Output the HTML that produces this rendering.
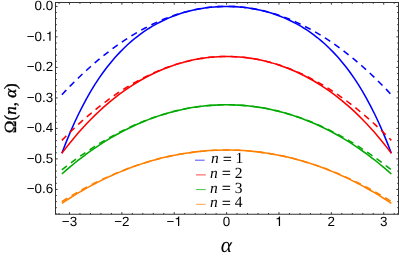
<!DOCTYPE html>
<html><head><meta charset="utf-8"><style>
html,body{margin:0;padding:0;background:#fff;}
svg{display:block;text-rendering:geometricPrecision;will-change:transform;}
.tk{font-family:"Liberation Sans",sans-serif;font-size:13.4px;fill:#000;}
.lg{font-family:"Liberation Serif",serif;font-size:15.5px;fill:#000;}
.ax{font-family:"Liberation Serif",serif;font-style:italic;fill:#000;}
.yl{font-family:"Liberation Serif",serif;font-size:17px;fill:#000;stroke:#000;stroke-width:0.35px;}
</style></head><body>
<svg width="399" height="261" viewBox="0 0 399 261">
<path d="M61.85 153.28 L65.97 142.61 L70.09 132.62 L74.21 123.25 L78.33 114.49 L82.45 106.28 L86.57 98.60 L90.69 91.42 L94.80 84.70 L98.92 78.41 L103.04 72.53 L107.16 67.03 L111.28 61.90 L115.40 57.10 L119.52 52.62 L123.63 48.44 L127.75 44.54 L131.87 40.90 L135.99 37.52 L140.11 34.36 L144.23 31.43 L148.35 28.72 L152.46 26.19 L156.58 23.86 L160.70 21.71 L164.82 19.72 L168.94 17.90 L173.06 16.23 L177.18 14.71 L181.30 13.33 L185.41 12.09 L189.53 10.98 L193.65 10.00 L197.77 9.15 L201.89 8.41 L206.01 7.79 L210.13 7.29 L214.24 6.90 L218.36 6.62 L222.48 6.46 L226.60 6.40 L230.72 6.46 L234.84 6.62 L238.96 6.90 L243.07 7.29 L247.19 7.79 L251.31 8.41 L255.43 9.15 L259.55 10.00 L263.67 10.98 L267.79 12.09 L271.90 13.33 L276.02 14.71 L280.14 16.23 L284.26 17.90 L288.38 19.72 L292.50 21.71 L296.62 23.86 L300.74 26.19 L304.85 28.72 L308.97 31.43 L313.09 34.36 L317.21 37.52 L321.33 40.90 L325.45 44.54 L329.57 48.44 L333.68 52.62 L337.80 57.10 L341.92 61.90 L346.04 67.03 L350.16 72.53 L354.28 78.41 L358.40 84.70 L362.51 91.42 L366.63 98.60 L370.75 106.28 L374.87 114.49 L378.99 123.25 L383.11 132.62 L387.23 142.61 L391.35 153.28" fill="none" stroke="#0000ff" stroke-width="1.55" stroke-linejoin="round"/>
<path d="M61.85 94.71 L65.97 90.35 L70.09 86.10 L74.21 81.96 L78.33 77.93 L82.45 74.01 L86.57 70.20 L90.69 66.51 L94.80 62.92 L98.92 59.44 L103.04 56.07 L107.16 52.82 L111.28 49.67 L115.40 46.64 L119.52 43.71 L123.63 40.90 L127.75 38.19 L131.87 35.60 L135.99 33.11 L140.11 30.74 L144.23 28.48 L148.35 26.33 L152.46 24.28 L156.58 22.35 L160.70 20.53 L164.82 18.82 L168.94 17.22 L173.06 15.73 L177.18 14.35 L181.30 13.08 L185.41 11.92 L189.53 10.87 L193.65 9.93 L197.77 9.10 L201.89 8.39 L206.01 7.78 L210.13 7.28 L214.24 6.90 L218.36 6.62 L222.48 6.46 L226.60 6.40 L230.72 6.46 L234.84 6.62 L238.96 6.90 L243.07 7.28 L247.19 7.78 L251.31 8.39 L255.43 9.10 L259.55 9.93 L263.67 10.87 L267.79 11.92 L271.90 13.08 L276.02 14.35 L280.14 15.73 L284.26 17.22 L288.38 18.82 L292.50 20.53 L296.62 22.35 L300.74 24.28 L304.85 26.33 L308.97 28.48 L313.09 30.74 L317.21 33.11 L321.33 35.60 L325.45 38.19 L329.57 40.90 L333.68 43.71 L337.80 46.64 L341.92 49.67 L346.04 52.82 L350.16 56.07 L354.28 59.44 L358.40 62.92 L362.51 66.51 L366.63 70.20 L370.75 74.01 L374.87 77.93 L378.99 81.96 L383.11 86.10 L387.23 90.35 L391.35 94.71" fill="none" stroke="#0000ff" stroke-width="1.55" stroke-dasharray="6.4 5.02"/>
<path d="M61.85 153.28 L65.97 147.87 L70.09 142.67 L74.21 137.66 L78.33 132.84 L82.45 128.20 L86.57 123.75 L90.69 119.48 L94.80 115.38 L98.92 111.44 L103.04 107.67 L107.16 104.07 L111.28 100.61 L115.40 97.31 L119.52 94.16 L123.63 91.16 L127.75 88.30 L131.87 85.58 L135.99 82.99 L140.11 80.54 L144.23 78.22 L148.35 76.03 L152.46 73.97 L156.58 72.03 L160.70 70.21 L164.82 68.51 L168.94 66.93 L173.06 65.47 L177.18 64.12 L181.30 62.88 L185.41 61.76 L189.53 60.75 L193.65 59.84 L197.77 59.05 L201.89 58.36 L206.01 57.78 L210.13 57.31 L214.24 56.94 L218.36 56.68 L222.48 56.52 L226.60 56.47 L230.72 56.52 L234.84 56.68 L238.96 56.94 L243.07 57.31 L247.19 57.78 L251.31 58.36 L255.43 59.05 L259.55 59.84 L263.67 60.75 L267.79 61.76 L271.90 62.88 L276.02 64.12 L280.14 65.47 L284.26 66.93 L288.38 68.51 L292.50 70.21 L296.62 72.03 L300.74 73.97 L304.85 76.03 L308.97 78.22 L313.09 80.54 L317.21 82.99 L321.33 85.58 L325.45 88.30 L329.57 91.16 L333.68 94.16 L337.80 97.31 L341.92 100.61 L346.04 104.07 L350.16 107.67 L354.28 111.44 L358.40 115.38 L362.51 119.48 L366.63 123.75 L370.75 128.20 L374.87 132.84 L378.99 137.66 L383.11 142.67 L387.23 147.87 L391.35 153.28" fill="none" stroke="#ff0000" stroke-width="1.55" stroke-linejoin="round"/>
<path d="M61.85 140.33 L65.97 136.19 L70.09 132.16 L74.21 128.22 L78.33 124.40 L82.45 120.68 L86.57 117.06 L90.69 113.55 L94.80 110.14 L98.92 106.84 L103.04 103.64 L107.16 100.55 L111.28 97.56 L115.40 94.68 L119.52 91.90 L123.63 89.23 L127.75 86.66 L131.87 84.20 L135.99 81.84 L140.11 79.58 L144.23 77.44 L148.35 75.39 L152.46 73.45 L156.58 71.62 L160.70 69.89 L164.82 68.26 L168.94 66.74 L173.06 65.33 L177.18 64.02 L181.30 62.81 L185.41 61.71 L189.53 60.72 L193.65 59.82 L197.77 59.04 L201.89 58.36 L206.01 57.78 L210.13 57.31 L214.24 56.94 L218.36 56.68 L222.48 56.52 L226.60 56.47 L230.72 56.52 L234.84 56.68 L238.96 56.94 L243.07 57.31 L247.19 57.78 L251.31 58.36 L255.43 59.04 L259.55 59.82 L263.67 60.72 L267.79 61.71 L271.90 62.81 L276.02 64.02 L280.14 65.33 L284.26 66.74 L288.38 68.26 L292.50 69.89 L296.62 71.62 L300.74 73.45 L304.85 75.39 L308.97 77.44 L313.09 79.58 L317.21 81.84 L321.33 84.20 L325.45 86.66 L329.57 89.23 L333.68 91.90 L337.80 94.68 L341.92 97.56 L346.04 100.55 L350.16 103.64 L354.28 106.84 L358.40 110.14 L362.51 113.55 L366.63 117.06 L370.75 120.68 L374.87 124.40 L378.99 128.22 L383.11 132.16 L387.23 136.19 L391.35 140.33" fill="none" stroke="#ff0000" stroke-width="1.55" stroke-dasharray="6.4 5.02"/>
<path d="M61.85 174.02 L65.97 170.41 L70.09 166.90 L74.21 163.50 L78.33 160.21 L82.45 157.03 L86.57 153.96 L90.69 150.99 L94.80 148.12 L98.92 145.35 L103.04 142.68 L107.16 140.12 L111.28 137.65 L115.40 135.27 L119.52 133.00 L123.63 130.81 L127.75 128.72 L131.87 126.73 L135.99 124.82 L140.11 123.01 L144.23 121.28 L148.35 119.65 L152.46 118.10 L156.58 116.64 L160.70 115.27 L164.82 113.98 L168.94 112.78 L173.06 111.67 L177.18 110.64 L181.30 109.69 L185.41 108.83 L189.53 108.05 L193.65 107.36 L197.77 106.74 L201.89 106.21 L206.01 105.76 L210.13 105.40 L214.24 105.11 L218.36 104.91 L222.48 104.78 L226.60 104.74 L230.72 104.78 L234.84 104.91 L238.96 105.11 L243.07 105.40 L247.19 105.76 L251.31 106.21 L255.43 106.74 L259.55 107.36 L263.67 108.05 L267.79 108.83 L271.90 109.69 L276.02 110.64 L280.14 111.67 L284.26 112.78 L288.38 113.98 L292.50 115.27 L296.62 116.64 L300.74 118.10 L304.85 119.65 L308.97 121.28 L313.09 123.01 L317.21 124.82 L321.33 126.73 L325.45 128.72 L329.57 130.81 L333.68 133.00 L337.80 135.27 L341.92 137.65 L346.04 140.12 L350.16 142.68 L354.28 145.35 L358.40 148.12 L362.51 150.99 L366.63 153.96 L370.75 157.03 L374.87 160.21 L378.99 163.50 L383.11 166.90 L387.23 170.41 L391.35 174.02" fill="none" stroke="#00aa00" stroke-width="1.55" stroke-linejoin="round"/>
<path d="M61.85 169.88 L65.97 166.66 L70.09 163.53 L74.21 160.47 L78.33 157.50 L82.45 154.61 L86.57 151.80 L90.69 149.08 L94.80 146.43 L98.92 143.86 L103.04 141.38 L107.16 138.98 L111.28 136.66 L115.40 134.42 L119.52 132.26 L123.63 130.19 L127.75 128.19 L131.87 126.28 L135.99 124.45 L140.11 122.70 L144.23 121.03 L148.35 119.44 L152.46 117.93 L156.58 116.51 L160.70 115.16 L164.82 113.90 L168.94 112.72 L173.06 111.62 L177.18 110.61 L181.30 109.67 L185.41 108.81 L189.53 108.04 L193.65 107.35 L197.77 106.74 L201.89 106.21 L206.01 105.76 L210.13 105.39 L214.24 105.11 L218.36 104.91 L222.48 104.78 L226.60 104.74 L230.72 104.78 L234.84 104.91 L238.96 105.11 L243.07 105.39 L247.19 105.76 L251.31 106.21 L255.43 106.74 L259.55 107.35 L263.67 108.04 L267.79 108.81 L271.90 109.67 L276.02 110.61 L280.14 111.62 L284.26 112.72 L288.38 113.90 L292.50 115.16 L296.62 116.51 L300.74 117.93 L304.85 119.44 L308.97 121.03 L313.09 122.70 L317.21 124.45 L321.33 126.28 L325.45 128.19 L329.57 130.19 L333.68 132.26 L337.80 134.42 L341.92 136.66 L346.04 138.98 L350.16 141.38 L354.28 143.86 L358.40 146.43 L362.51 149.08 L366.63 151.80 L370.75 154.61 L374.87 157.50 L378.99 160.47 L383.11 163.53 L387.23 166.66 L391.35 169.88" fill="none" stroke="#00aa00" stroke-width="1.55" stroke-dasharray="6.4 5.02"/>
<path d="M61.85 203.35 L65.97 200.63 L70.09 198.00 L74.21 195.43 L78.33 192.95 L82.45 190.53 L86.57 188.20 L90.69 185.93 L94.80 183.75 L98.92 181.63 L103.04 179.59 L107.16 177.62 L111.28 175.72 L115.40 173.89 L119.52 172.13 L123.63 170.44 L127.75 168.82 L131.87 167.27 L135.99 165.79 L140.11 164.38 L144.23 163.03 L148.35 161.76 L152.46 160.55 L156.58 159.41 L160.70 158.33 L164.82 157.32 L168.94 156.38 L173.06 155.51 L177.18 154.70 L181.30 153.95 L185.41 153.27 L189.53 152.66 L193.65 152.11 L197.77 151.62 L201.89 151.21 L206.01 150.85 L210.13 150.56 L214.24 150.34 L218.36 150.17 L222.48 150.08 L226.60 150.05 L230.72 150.08 L234.84 150.17 L238.96 150.34 L243.07 150.56 L247.19 150.85 L251.31 151.21 L255.43 151.62 L259.55 152.11 L263.67 152.66 L267.79 153.27 L271.90 153.95 L276.02 154.70 L280.14 155.51 L284.26 156.38 L288.38 157.32 L292.50 158.33 L296.62 159.41 L300.74 160.55 L304.85 161.76 L308.97 163.03 L313.09 164.38 L317.21 165.79 L321.33 167.27 L325.45 168.82 L329.57 170.44 L333.68 172.13 L337.80 173.89 L341.92 175.72 L346.04 177.62 L350.16 179.59 L354.28 181.63 L358.40 183.75 L362.51 185.93 L366.63 188.20 L370.75 190.53 L374.87 192.95 L378.99 195.43 L383.11 198.00 L387.23 200.63 L391.35 203.35" fill="none" stroke="#ff8000" stroke-width="1.55" stroke-linejoin="round"/>
<path d="M61.85 201.56 L65.97 199.01 L70.09 196.53 L74.21 194.12 L78.33 191.77 L82.45 189.48 L86.57 187.26 L90.69 185.11 L94.80 183.01 L98.92 180.98 L103.04 179.02 L107.16 177.12 L111.28 175.29 L115.40 173.52 L119.52 171.81 L123.63 170.17 L127.75 168.59 L131.87 167.08 L135.99 165.63 L140.11 164.24 L144.23 162.92 L148.35 161.67 L152.46 160.48 L156.58 159.35 L160.70 158.29 L164.82 157.29 L168.94 156.36 L173.06 155.49 L177.18 154.68 L181.30 153.94 L185.41 153.26 L189.53 152.65 L193.65 152.11 L197.77 151.62 L201.89 151.20 L206.01 150.85 L210.13 150.56 L214.24 150.33 L218.36 150.17 L222.48 150.08 L226.60 150.05 L230.72 150.08 L234.84 150.17 L238.96 150.33 L243.07 150.56 L247.19 150.85 L251.31 151.20 L255.43 151.62 L259.55 152.11 L263.67 152.65 L267.79 153.26 L271.90 153.94 L276.02 154.68 L280.14 155.49 L284.26 156.36 L288.38 157.29 L292.50 158.29 L296.62 159.35 L300.74 160.48 L304.85 161.67 L308.97 162.92 L313.09 164.24 L317.21 165.63 L321.33 167.08 L325.45 168.59 L329.57 170.17 L333.68 171.81 L337.80 173.52 L341.92 175.29 L346.04 177.12 L350.16 179.02 L354.28 180.98 L358.40 183.01 L362.51 185.11 L366.63 187.26 L370.75 189.48 L374.87 191.77 L378.99 194.12 L383.11 196.53 L387.23 199.01 L391.35 201.56" fill="none" stroke="#ff8000" stroke-width="1.55" stroke-dasharray="6.4 5.02"/>
<rect x="55.5" y="2.5" width="343.0" height="211.75" fill="none" stroke="#333333" stroke-width="1"/>
<path d="M59.02 214.25 v-1.3 M59.02 2.5 v1.3 M69.49 214.25 v-2.1 M69.49 2.5 v2.1 M79.96 214.25 v-1.3 M79.96 2.5 v1.3 M90.44 214.25 v-1.3 M90.44 2.5 v1.3 M100.91 214.25 v-1.3 M100.91 2.5 v1.3 M111.39 214.25 v-1.3 M111.39 2.5 v1.3 M121.86 214.25 v-2.1 M121.86 2.5 v2.1 M132.33 214.25 v-1.3 M132.33 2.5 v1.3 M142.81 214.25 v-1.3 M142.81 2.5 v1.3 M153.28 214.25 v-1.3 M153.28 2.5 v1.3 M163.76 214.25 v-1.3 M163.76 2.5 v1.3 M174.23 214.25 v-2.1 M174.23 2.5 v2.1 M184.70 214.25 v-1.3 M184.70 2.5 v1.3 M195.18 214.25 v-1.3 M195.18 2.5 v1.3 M205.65 214.25 v-1.3 M205.65 2.5 v1.3 M216.13 214.25 v-1.3 M216.13 2.5 v1.3 M226.60 214.25 v-2.1 M226.60 2.5 v2.1 M237.07 214.25 v-1.3 M237.07 2.5 v1.3 M247.55 214.25 v-1.3 M247.55 2.5 v1.3 M258.02 214.25 v-1.3 M258.02 2.5 v1.3 M268.50 214.25 v-1.3 M268.50 2.5 v1.3 M278.97 214.25 v-2.1 M278.97 2.5 v2.1 M289.44 214.25 v-1.3 M289.44 2.5 v1.3 M299.92 214.25 v-1.3 M299.92 2.5 v1.3 M310.39 214.25 v-1.3 M310.39 2.5 v1.3 M320.87 214.25 v-1.3 M320.87 2.5 v1.3 M331.34 214.25 v-2.1 M331.34 2.5 v2.1 M341.81 214.25 v-1.3 M341.81 2.5 v1.3 M352.29 214.25 v-1.3 M352.29 2.5 v1.3 M362.76 214.25 v-1.3 M362.76 2.5 v1.3 M373.24 214.25 v-1.3 M373.24 2.5 v1.3 M383.71 214.25 v-2.1 M383.71 2.5 v2.1 M394.18 214.25 v-1.3 M394.18 2.5 v1.3 M55.5 213.80 h1.3 M398.5 213.80 h-1.3 M55.5 207.70 h1.3 M398.5 207.70 h-1.3 M55.5 201.60 h1.3 M398.5 201.60 h-1.3 M55.5 195.50 h1.3 M398.5 195.50 h-1.3 M55.5 189.40 h2.1 M398.5 189.40 h-2.1 M55.5 183.30 h1.3 M398.5 183.30 h-1.3 M55.5 177.20 h1.3 M398.5 177.20 h-1.3 M55.5 171.10 h1.3 M398.5 171.10 h-1.3 M55.5 165.00 h1.3 M398.5 165.00 h-1.3 M55.5 158.90 h2.1 M398.5 158.90 h-2.1 M55.5 152.80 h1.3 M398.5 152.80 h-1.3 M55.5 146.70 h1.3 M398.5 146.70 h-1.3 M55.5 140.60 h1.3 M398.5 140.60 h-1.3 M55.5 134.50 h1.3 M398.5 134.50 h-1.3 M55.5 128.40 h2.1 M398.5 128.40 h-2.1 M55.5 122.30 h1.3 M398.5 122.30 h-1.3 M55.5 116.20 h1.3 M398.5 116.20 h-1.3 M55.5 110.10 h1.3 M398.5 110.10 h-1.3 M55.5 104.00 h1.3 M398.5 104.00 h-1.3 M55.5 97.90 h2.1 M398.5 97.90 h-2.1 M55.5 91.80 h1.3 M398.5 91.80 h-1.3 M55.5 85.70 h1.3 M398.5 85.70 h-1.3 M55.5 79.60 h1.3 M398.5 79.60 h-1.3 M55.5 73.50 h1.3 M398.5 73.50 h-1.3 M55.5 67.40 h2.1 M398.5 67.40 h-2.1 M55.5 61.30 h1.3 M398.5 61.30 h-1.3 M55.5 55.20 h1.3 M398.5 55.20 h-1.3 M55.5 49.10 h1.3 M398.5 49.10 h-1.3 M55.5 43.00 h1.3 M398.5 43.00 h-1.3 M55.5 36.90 h2.1 M398.5 36.90 h-2.1 M55.5 30.80 h1.3 M398.5 30.80 h-1.3 M55.5 24.70 h1.3 M398.5 24.70 h-1.3 M55.5 18.60 h1.3 M398.5 18.60 h-1.3 M55.5 12.50 h1.3 M398.5 12.50 h-1.3 M55.5 6.40 h2.1 M398.5 6.40 h-2.1" fill="none" stroke="#333333" stroke-width="1"/>
<text x="61.85" y="225.90" class="tk">−3</text>
<text x="114.22" y="225.90" class="tk">−2</text>
<text x="166.59" y="225.90" class="tk">−</text><path d="M179.23 225.90 L178.01 225.90 L178.01 219.20 L175.77 219.20 L175.77 218.33 C176.96 218.33 178.04 217.73 178.44 216.48 L179.23 216.48 Z" fill="#000"/>
<text x="222.87" y="225.90" class="tk">0</text>
<path d="M280.06 225.90 L278.84 225.90 L278.84 219.20 L276.60 219.20 L276.60 218.33 C277.79 218.33 278.86 217.73 279.26 216.48 L280.06 216.48 Z" fill="#000"/>
<text x="327.61" y="225.90" class="tk">2</text>
<text x="379.98" y="225.90" class="tk">3</text>
<text x="34.57" y="10.30" class="tk">0.0</text>
<text x="26.75" y="40.80" class="tk">−0.</text><path d="M50.56 40.80 L49.34 40.80 L49.34 34.10 L47.10 34.10 L47.10 33.23 C48.30 33.23 49.37 32.63 49.77 31.38 L50.56 31.38 Z" fill="#000"/>
<text x="26.75" y="71.30" class="tk">−0.2</text>
<text x="26.75" y="101.80" class="tk">−0.3</text>
<text x="26.75" y="132.30" class="tk">−0.4</text>
<text x="26.75" y="162.80" class="tk">−0.5</text>
<text x="26.75" y="193.30" class="tk">−0.6</text>
<line x1="195.0" x2="204.6" y1="160.2" y2="160.2" stroke="#0000ff" stroke-width="1" opacity="0.7"/>
<text x="210.90" y="163.15" class="lg" font-style="italic">n</text>
<text x="223.00" y="163.75" class="lg" stroke="#000" stroke-width="0.25">=</text>
<text x="235.60" y="163.15" class="lg">1</text>
<line x1="195.9" x2="205.8" y1="174.9" y2="174.9" stroke="#ff0000" stroke-width="1" opacity="0.7"/>
<text x="210.00" y="177.85" class="lg" font-style="italic">n</text>
<text x="222.10" y="178.45" class="lg" stroke="#000" stroke-width="0.25">=</text>
<text x="234.70" y="177.85" class="lg">2</text>
<line x1="195.9" x2="205.8" y1="189.6" y2="189.6" stroke="#00aa00" stroke-width="1" opacity="0.7"/>
<text x="210.00" y="192.55" class="lg" font-style="italic">n</text>
<text x="222.10" y="193.15" class="lg" stroke="#000" stroke-width="0.25">=</text>
<text x="234.70" y="192.55" class="lg">3</text>
<line x1="195.9" x2="205.8" y1="204.3" y2="204.3" stroke="#ff8000" stroke-width="1" opacity="0.7"/>
<text x="210.00" y="207.25" class="lg" font-style="italic">n</text>
<text x="222.10" y="207.85" class="lg" stroke="#000" stroke-width="0.25">=</text>
<text x="234.70" y="207.25" class="lg">4</text>
<text x="226.3" y="252" text-anchor="middle" class="ax" font-size="21.5">α</text>
<text transform="translate(16 108.2) rotate(-90)" text-anchor="middle" class="yl">Ω(<tspan font-style="italic">n</tspan>, <tspan font-style="italic">α</tspan>)</text>
</svg>
</body></html>
